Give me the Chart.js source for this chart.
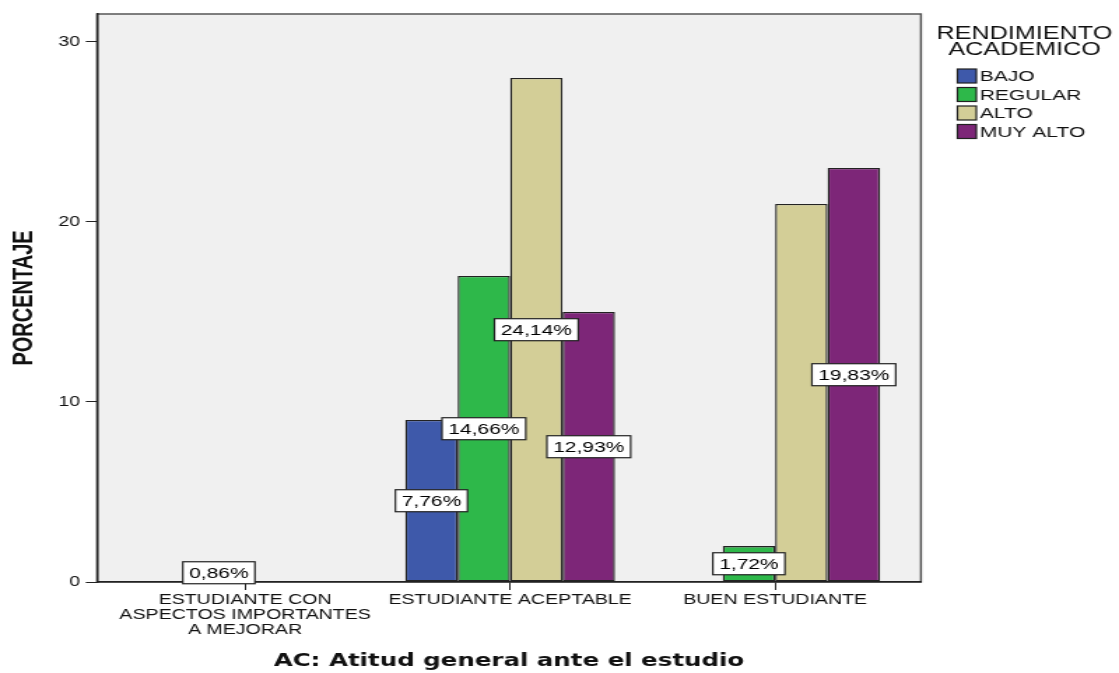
<!DOCTYPE html>
<html>
<head>
<meta charset="utf-8">
<script src="https://cdn.jsdelivr.net/npm/chart.js@4.4.1/dist/chart.umd.min.js"></script>
<style>
  html, body { margin: 0; padding: 0; background: #fff; overflow: hidden; }
  /* El gráfico original está estirado en horizontal */
  #marco { width: 800px; height: 673px; transform: scaleX(1.39875); transform-origin: 0 0; }
</style>
</head>
<body>
<div id="marco"><canvas id="Grafico" width="800" height="673"></canvas></div>
<script>
//Categorías del eje X
const categorias = [
  ['ESTUDIANTE CON', 'ASPECTOS IMPORTANTES', 'A MEJORAR'],
  ['ESTUDIANTE ACEPTABLE'],
  ['BUEN ESTUDIANTE']
];

//Series (rendimiento académico)
const series = ['BAJO', 'REGULAR', 'ALTO', 'MUY ALTO'];
const bajo = [0, 9, 0];
const regular = [1, 17, 2];
const alto = [0, 28, 21];
const muyAlto = [0, 15, 23];

//Etiquetas de porcentaje sobre las barras
const etqBajo = ['', '7,76%', ''];
const etqRegular = ['0,86%', '14,66%', '1,72%'];
const etqAlto = ['', '24,14%', ''];
const etqMuyAlto = ['', '12,93%', '19,83%'];

//Marcas del eje Y
const ticksY = [0, 10, 20, 30];

const tituloLeyenda = ['RENDIMIENTO', 'ACADEMICO'];
const colores = ['#3e59aa', '#2eb84a', '#d3ce97', '#7d2678'];
const fuente = '"Liberation Sans", Arial, Helvetica, sans-serif';

const valores = [bajo, regular, alto, muyAlto];
const etiquetasSerie = [etqBajo, etqRegular, etqAlto, etqMuyAlto];

//Fondo gris del área de trazado
const fondo = {
  id: 'fondo',
  beforeDraw(chart) {
    const {ctx, chartArea: a} = chart;
    ctx.save();
    ctx.fillStyle = '#fff';
    ctx.fillRect(0, 0, chart.width, chart.height);
    ctx.fillStyle = '#f0f0f0';
    ctx.fillRect(a.left, a.top, a.right - a.left, a.bottom - a.top);
    ctx.strokeStyle = '#555';
    ctx.lineWidth = 1.5;
    ctx.strokeRect(a.left, a.top, a.right - a.left, a.bottom - a.top);
    ctx.restore();
  }
};

//Cajas con el porcentaje en el centro de cada barra
const etiquetas = {
  id: 'etiquetas',
  afterDatasetsDraw(chart) {
    const ctx = chart.ctx;
    ctx.save();
    ctx.font = '15px ' + fuente;
    ctx.textAlign = 'center';
    ctx.textBaseline = 'middle';
    chart.data.datasets.forEach((ds, d) => {
      chart.getDatasetMeta(d).data.forEach((barra, i) => {
        const txt = ds.etiquetas[i];
        if (!txt) return;
        const cx = barra.x;
        const cy = (barra.y + barra.base) / 2;
        const w = ctx.measureText(txt).width + 9;
        const h = 22;
        ctx.fillStyle = '#fff';
        ctx.fillRect(cx - w / 2, cy - h / 2, w, h);
        ctx.strokeStyle = '#222';
        ctx.lineWidth = 1.2;
        ctx.strokeRect(cx - w / 2, cy - h / 2, w, h);
        ctx.fillStyle = '#000';
        ctx.fillText(txt, cx, cy + 1);
      });
    });
    ctx.restore();
  }
};

//Leyenda a la derecha
const leyenda = {
  id: 'leyenda',
  afterDraw(chart) {
    const ctx = chart.ctx;
    ctx.save();
    ctx.fillStyle = '#111';
    ctx.textAlign = 'center';
    ctx.textBaseline = 'middle';
    ctx.font = '18px ' + fuente;
    ctx.fillText(tituloLeyenda[0], 732.4, 34);
    ctx.fillText(tituloLeyenda[1], 732.4, 50);
    ctx.textAlign = 'left';
    ctx.font = '15px ' + fuente;
    series.forEach((s, i) => {
      const y = 76 + i * 18.5;
      ctx.fillStyle = colores[i];
      ctx.fillRect(684.5, y - 7, 13.5, 14);
      ctx.strokeStyle = '#222';
      ctx.lineWidth = 1.2;
      ctx.strokeRect(684.5, y - 7, 13.5, 14);
      ctx.fillStyle = '#111';
      ctx.fillText(s, 700.5, y + 1);
    });
    ctx.restore();
  }
};

const contexto = document.getElementById('Grafico').getContext('2d');
const Grafico = new Chart(contexto, {
  type: 'bar',
  data: {
    datasets: series.map((s, d) => ({
      label: s,
      data: valores[d].map((v, i) => ({x: i, y: v})),
      etiquetas: etiquetasSerie[d],
      backgroundColor: colores[d],
      borderColor: '#222',
      borderWidth: 1.4,
      borderSkipped: false
    }))
  },
  options: {
    responsive: false,
    animation: false,
    devicePixelRatio: 1,
    categoryPercentage: 0.7916,
    barPercentage: 1,
    layout: { padding: { left: 0, right: 141.6, top: 14, bottom: 0 } },
    plugins: {
      legend: { display: false },
      tooltip: { enabled: false }
    },
    scales: {
      x: {
        type: 'linear',
        min: -0.5588,
        max: 2.5502,
        offset: false,
        afterBuildTicks: s => { s.ticks = categorias.map((c, i) => ({value: i})); },
        afterFit: s => { s.height = 91; },
        grid: { display: true, drawOnChartArea: false, drawTicks: true, tickLength: 8, color: '#222', offset: false },
        border: { display: true, color: '#222', width: 1.5 },
        ticks: {
          autoSkip: false,
          maxRotation: 0,
          padding: 3,
          color: '#111',
          font: { family: fuente, size: 14, lineHeight: '15px' },
          callback: v => categorias[v]
        },
        title: {
          display: true,
          text: 'AC: Atitud general ante el estudio',
          color: '#111',
          font: { family: '"DejaVu Sans", Verdana, sans-serif', size: 17.5, weight: 'bold' },
          padding: { top: 0, bottom: 1.5 }
        }
      },
      y: {
        min: 0,
        max: 31.55,
        afterBuildTicks: s => { s.ticks = ticksY.map(v => ({value: v})); },
        afterFit: s => { s.width = 69.35; },
        grid: { display: true, drawOnChartArea: false, drawTicks: true, tickLength: 8, color: '#222' },
        border: { display: true, color: '#222', width: 1.5 },
        ticks: { padding: 4, color: '#111', font: { family: fuente, size: 14 } },
        title: {
          display: true,
          text: 'PORCENTAJE',
          color: '#111',
          font: { family: fuente, size: 20, weight: 'bold' },
          padding: { top: 5.9, bottom: 0 }
        }
      }
    }
  },
  plugins: [fondo, etiquetas, leyenda]
});
</script>
</body>
</html>
